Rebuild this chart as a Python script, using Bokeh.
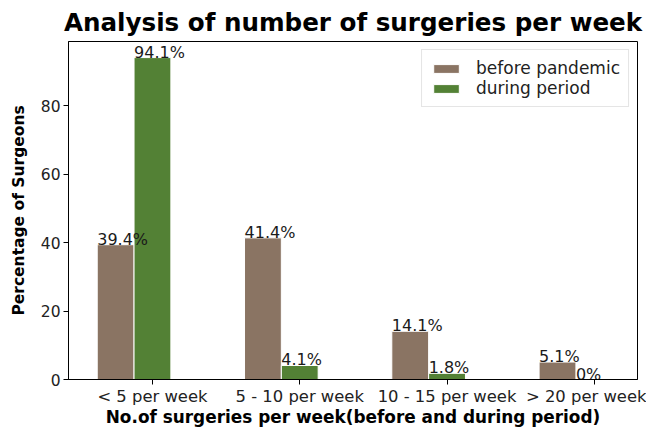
from bokeh.plotting import figure
from bokeh.models import Range1d, FixedTicker, Legend, LegendItem, ColumnDataSource
from bokeh.embed import file_html
from bokeh.resources import INLINE
from bokeh.core.properties import value

categories = ["< 5 per week", "5 - 10 per week", "10 - 15 per week", "> 20 per week"]
before_pandemic = [39.4, 41.4, 14.1, 5.1]
during_period = [94.1, 4.1, 1.8, 0.0]
before_labels = ["39.4%", "41.4%", "14.1%", "5.1%"]
during_labels = ["94.1%", "4.1%", "1.8%", "0%"]
y_ticks = [0, 20, 40, 60, 80]

BROWN = "#8a7463"
GREEN = "#538135"
FONT = "DejaVu Sans"
W = 0.25

idx = list(range(len(categories)))
src_b = ColumnDataSource(dict(x=[i - W for i in idx], top=before_pandemic,
                              lx=[i - 1.5 * W for i in idx], lab=before_labels))
src_d = ColumnDataSource(dict(x=[i for i in idx], top=during_period,
                              lx=[i - 0.5 * W for i in idx], lab=during_labels))

p = figure(width=646, height=429, output_backend="svg", toolbar_location=None,
           x_range=Range1d(-0.57, 3.293), y_range=Range1d(0, 98.8),
           min_border_left=68, min_border_right=9, min_border_top=41, min_border_bottom=48)

p.title.text = "Analysis of number of surgeries per week"
p.title.text_font = FONT
p.title.text_font_size = "24.6px"
p.title.text_font_style = "bold"
p.title.align = "center"
p.title.text_color = "black"

rb = p.vbar(x="x", top="top", width=W, source=src_b, fill_color=BROWN, line_color="white", line_width=1)
rd = p.vbar(x="x", top="top", width=W, source=src_d, fill_color=GREEN, line_color="white", line_width=1)

for s in (src_b, src_d):
    p.text(x="lx", y="top", text="lab", source=s, text_align="left", text_baseline="bottom",
           y_offset=4, text_font=value(FONT), text_font_size="16px", text_color="#1a1a1a")

p.xaxis.ticker = FixedTicker(ticks=idx)
p.xaxis.major_label_overrides = {i: c for i, c in zip(idx, categories)}
p.yaxis.ticker = FixedTicker(ticks=y_ticks)

p.xaxis.axis_label = "No.of surgeries per week(before and during period)"
p.yaxis.axis_label = "Percentage of Surgeons"
for ax in (p.xaxis, p.yaxis):
    ax.axis_label_text_font = FONT
    ax.axis_label_text_font_style = "bold"
    ax.major_label_text_font = FONT
    ax.major_label_text_color = "#222222"
    ax.axis_label_text_color = "black"
    ax.minor_tick_line_color = None
    ax.major_tick_out = 5
    ax.major_tick_in = 0
    ax.axis_line_color = "black"
    ax.major_tick_line_color = "black"
p.xaxis.axis_label_text_font_size = "16.9px"
p.yaxis.axis_label_text_font_size = "15.5px"
p.xaxis.major_label_text_font_size = "16.4px"
p.yaxis.major_label_text_font_size = "15.5px"
p.xaxis.major_label_standoff = 2
p.xaxis.axis_label_standoff = -2
p.yaxis.major_label_standoff = 3
p.yaxis.axis_label_standoff = 10

p.xgrid.grid_line_color = None
p.ygrid.grid_line_color = None
p.outline_line_color = "black"
p.outline_line_alpha = 1

legend = Legend(items=[LegendItem(label="before pandemic", renderers=[rb]),
                       LegendItem(label="during period", renderers=[rd])],
                location="top_right", margin=8, padding=8, spacing=0,
                glyph_width=32, glyph_height=11, label_height=16, label_standoff=14,
                label_text_font=FONT, label_text_font_size="17px", label_text_color="#222222",
                border_line_color="#cccccc", background_fill_alpha=0.8)
p.add_layout(legend)

open("out.html", "w").write(file_html(p, INLINE))
